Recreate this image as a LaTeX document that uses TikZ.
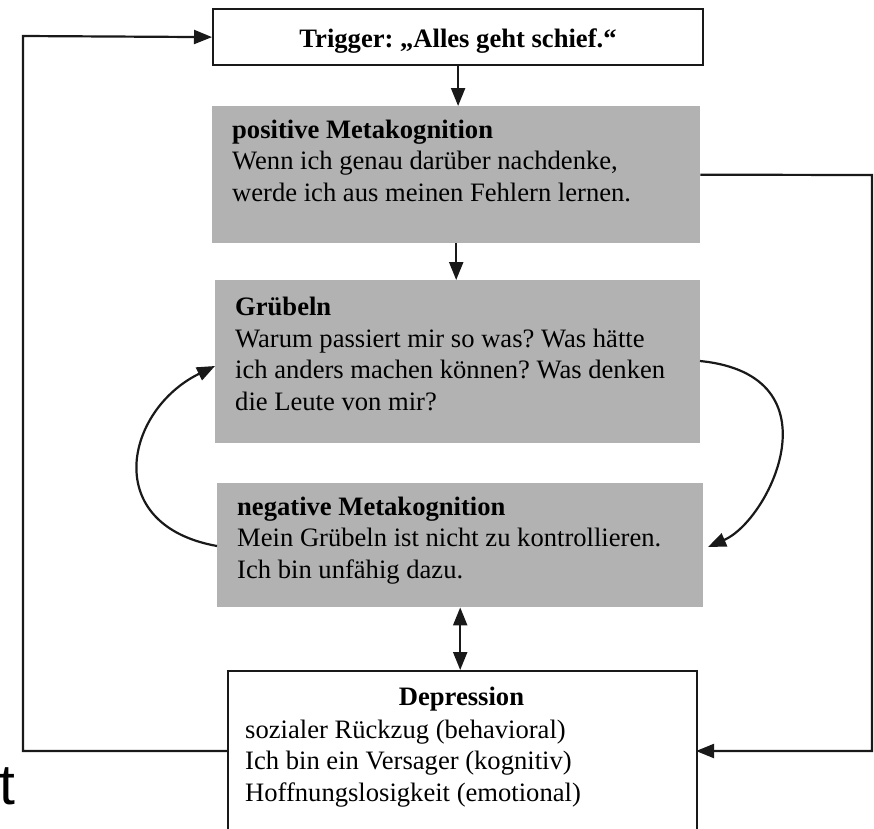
\documentclass[tikz,border=0pt]{standalone}
\usepackage{fontspec}
\setmainfont{Liberation Serif}
\newfontfamily\sansf{Liberation Sans}
\usetikzlibrary{arrows.meta}
\frenchspacing
\begin{document}
\begin{tikzpicture}[x=1pt,y=-1pt,
  box/.style={rectangle, inner sep=0pt, anchor=north west},
  gbox/.style={box, fill=black!30},
  wbox/.style={box, draw=black!90, line width=2.2pt, fill=white},
  txt/.style={inner sep=0pt, anchor=base west, align=left, font=\fontsize{26.6}{31.5}\selectfont},
  tip/.tip={Triangle[length=18pt,width=14pt]},
  conn/.style={line width=2.2pt, draw=black!90, -tip},
]
\useasboundingbox (0,0) rectangle (874,828);
\clip (0,0) rectangle (874,828);

% boxes
\node[wbox, minimum width=490pt, minimum height=56pt] (trig) at (212,8) {};
\node[gbox, minimum width=488pt, minimum height=137pt] (pos) at (212,106) {};
\node[gbox, minimum width=485pt, minimum height=163pt] (grub) at (215,280) {};
\node[gbox, minimum width=486pt, minimum height=124pt] (neg) at (217,483) {};
\node[wbox, minimum width=469pt, minimum height=220pt] (dep) at (227,670) {};

% texts (base anchor = baseline of the last line)
\node[inner sep=0pt, anchor=base, font=\bfseries\fontsize{26.6}{31.5}\selectfont] (trigt) at (458,47) {Trigger: „Alles geht schief.“};
\node[txt] (post) at (232,201) {\textbf{positive Metakognition}\\Wenn ich genau darüber nachdenke,\\werde ich aus meinen Fehlern lernen.};
\node[txt] (grubt) at (235,410) {\textbf{Grübeln}\\Warum passiert mir so was? Was hätte\\ich anders machen können? Was denken\\die Leute von mir?};
\node[txt] (negt) at (237,578) {\textbf{negative Metakognition}\\Mein Grübeln ist nicht zu kontrollieren.\\Ich bin unfähig dazu.};
\node[inner sep=0pt, anchor=base, font=\bfseries\fontsize{26.6}{31.5}\selectfont] (dept) at (461.5,705) {Depression};
\node[txt] (depl) at (245,801) {sozialer Rückzug (behavioral)\\Ich bin ein Versager (kognitiv)\\Hoffnungslosigkeit (emotional)};

\node[inner sep=0pt, anchor=base west, font=\sansf\fontsize{57}{57}\selectfont] (tfrag) at (-1,804) {t};

% helper coordinates
\coordinate (rc) at (872,175);
\coordinate (rin) at (696,751);
\coordinate (lin) at (227,751);
\coordinate (ltop) at (23,36);
\coordinate (ls) at (217,546);
\coordinate (le) at (215,366);
\coordinate (rs) at (700,361);
\coordinate (re) at (708,547);

% connectors
\draw[conn] (trig.south) -- (trig.south |- pos.north);
\draw[conn] (pos.south) -- (pos.south |- grub.north);
\draw[conn, tip-tip] (neg.south) -- (neg.south |- dep.north);
\draw[conn] (pos.east) -- (rc) |- (rin);
\draw[conn] (lin) -- (lin -| ltop) -- (ltop) -- (trig.west);
\draw[conn] (ls) .. controls (100,525) and (125,410) .. (le);
\draw[conn] (rs) .. controls (840,375) and (770,520) .. (re);
\end{tikzpicture}
\end{document}
